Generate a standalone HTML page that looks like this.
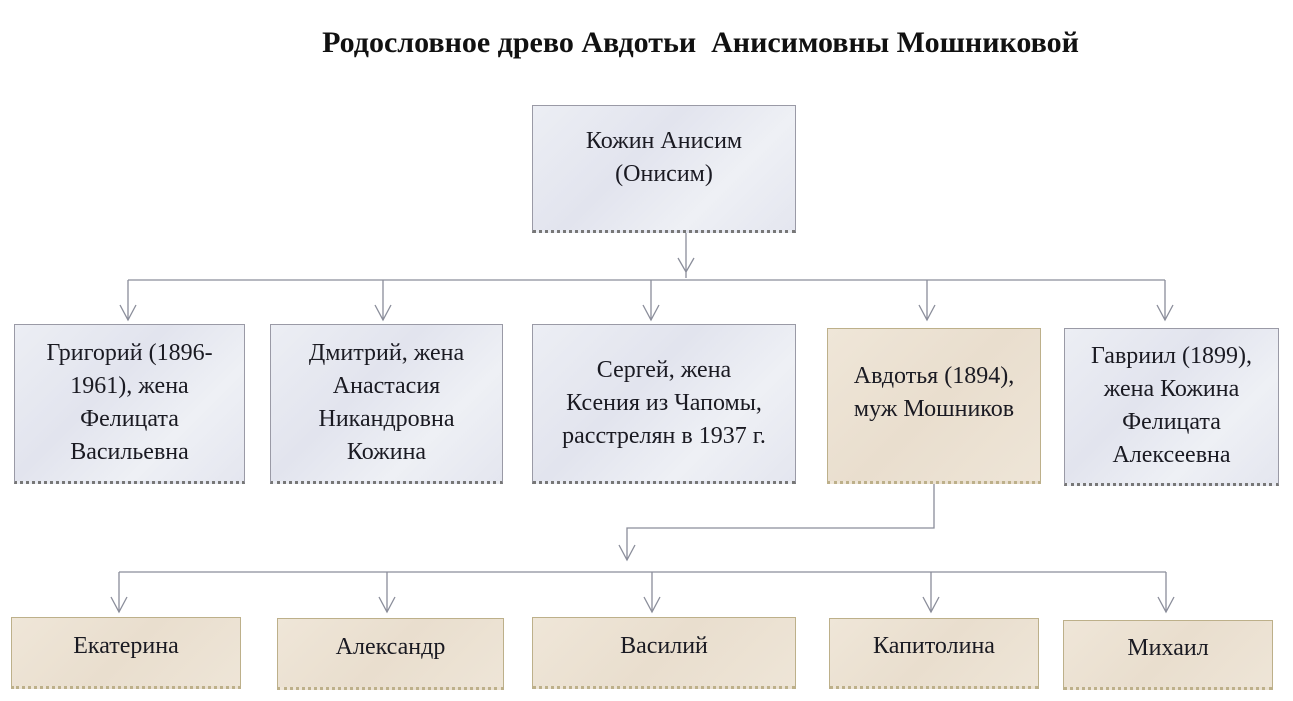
<!DOCTYPE html>
<html><head><meta charset="utf-8"><style>
html,body{margin:0;padding:0;background:#fff;}
body{width:1293px;height:701px;overflow:hidden;position:relative;font-family:"Liberation Serif",serif;}
.t{position:absolute;left:0;width:1401px;top:26px;text-align:center;font-weight:bold;font-size:30px;color:#111;}
.b{position:absolute;box-sizing:border-box;border:1.5px solid #9a9aa6;border-bottom:3px dotted #777;display:flex;align-items:center;justify-content:center;text-align:center;font-size:24px;line-height:33px;color:#1a1a22;background:linear-gradient(135deg,#eceef4,#e2e4ee 40%,#eef0f5 70%,#e4e6ef);}
.tan{background:linear-gradient(135deg,#efe6d8,#e9dece 50%,#eee5d7);border-color:#bdb08a;}
svg{position:absolute;left:0;top:0;}
</style></head><body>
<div class="t">Родословное древо Авдотьи&nbsp; Анисимовны Мошниковой</div>
<svg width="1293" height="701" stroke="#8a8d9a" stroke-width="1.3" fill="none">
<path d="M686 232V278M128 280H1165M128 280V320M383 280V320M651 280V320M927 280V320M1165 280V320"/>
<path d="M678 258L686 272L694 258M120 305L128 320L136 305M375 305L383 320L391 305M643 305L651 320L659 305M919 305L927 320L935 305M1157 305L1165 320L1173 305"/>
<path d="M934 484V528H627V560M119 572H1166M119 572V612M387 572V612M652 572V612M931 572V612M1166 572V612"/>
<path d="M619 545L627 560L635 545M111 597L119 612L127 597M379 597L387 612L395 597M644 597L652 612L660 597M923 597L931 612L939 597M1158 597L1166 612L1174 597"/>
</svg>
<div class="b" style="left:532px;top:105px;width:264px;height:128px;padding-bottom:20px">Кожин Анисим<br>(Онисим)</div>
<div class="b" style="left:14px;top:324px;width:231px;height:160px">Григорий (1896-<br>1961), жена<br>Фелицата<br>Васильевна</div>
<div class="b" style="left:270px;top:324px;width:233px;height:160px">Дмитрий, жена<br>Анастасия<br>Никандровна<br>Кожина</div>
<div class="b" style="left:532px;top:324px;width:264px;height:160px">Сергей, жена<br>Ксения из Чапомы,<br>расстрелян в 1937 г.</div>
<div class="b tan" style="left:827px;top:328px;width:214px;height:156px;padding-bottom:24px">Авдотья (1894),<br>муж Мошников</div>
<div class="b" style="left:1064px;top:328px;width:215px;height:158px">Гавриил (1899),<br>жена Кожина<br>Фелицата<br>Алексеевна</div>
<div class="b tan" style="left:11px;top:617px;width:230px;height:72px;padding-bottom:12px">Екатерина</div>
<div class="b tan" style="left:277px;top:618px;width:227px;height:72px;padding-bottom:12px">Александр</div>
<div class="b tan" style="left:532px;top:617px;width:264px;height:72px;padding-bottom:12px">Василий</div>
<div class="b tan" style="left:829px;top:618px;width:210px;height:71px;padding-bottom:12px">Капитолина</div>
<div class="b tan" style="left:1063px;top:620px;width:210px;height:70px;padding-bottom:12px">Михаил</div>
</body></html>
